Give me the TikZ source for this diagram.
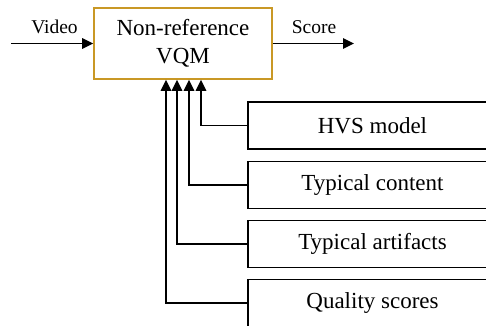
\documentclass[tikz,border=0pt]{standalone}
\usepackage{fontspec}
\setmainfont{Liberation Serif}
\usetikzlibrary{arrows.meta}
\definecolor{gold}{RGB}{201,152,37}
\tikzset{
  mainbox/.style={draw=gold, line width=1.6pt, fill=white, minimum width=178pt,
    minimum height=71pt, align=center, inner sep=0pt,
    font=\fontsize{23}{28}\selectfont},
  srcbox/.style={draw=black, line width=1.7pt, minimum width=249pt,
    minimum height=47pt, inner sep=0pt, font=\fontsize{23}{27}\selectfont},
  lbl/.style={inner sep=0pt, font=\fontsize{19.5}{23}\selectfont},
  arr/.style={line width=1.6pt, -{Triangle[length=11pt,width=10.5pt]}},
}
\begin{document}
\begin{tikzpicture}[x=1pt, y=-1pt]
  \useasboundingbox (0,0) rectangle (486,325);
  \clip (0,0) rectangle (486,325);
  % central metric block
  \node[mainbox] (vqm) at (183,43.5) {Non-reference\\VQM};
  % signal in and out
  \coordinate (in) at (11,43.5);
  \coordinate (out) at (354,43.5);
  \draw[arr] (in) -- (vqm.west);
  \draw[arr] (vqm.east) -- (out);
  \node[lbl] (video) at (54.5,27) {Video};
  \node[lbl] (score) at (314,27) {Score};
  % knowledge sources
  \node[srcbox] (hvs) at (372.5,125.5) {HVS model};
  \node[srcbox] (cont) at (372.5,185) {Typical content};
  \node[srcbox] (art) at (372.5,244) {Typical artifacts};
  \node[srcbox] (qual) at (372.5,303) {Quality scores};
  % feeds into the metric
  \draw[arr] (hvs.west) -| ([xshift=18pt]vqm.south);
  \draw[arr] (cont.west) -| ([xshift=6pt]vqm.south);
  \draw[arr] (art.west) -| ([xshift=-6pt]vqm.south);
  \draw[arr] (qual.west) -| ([xshift=-17pt]vqm.south);
\end{tikzpicture}
\end{document}
